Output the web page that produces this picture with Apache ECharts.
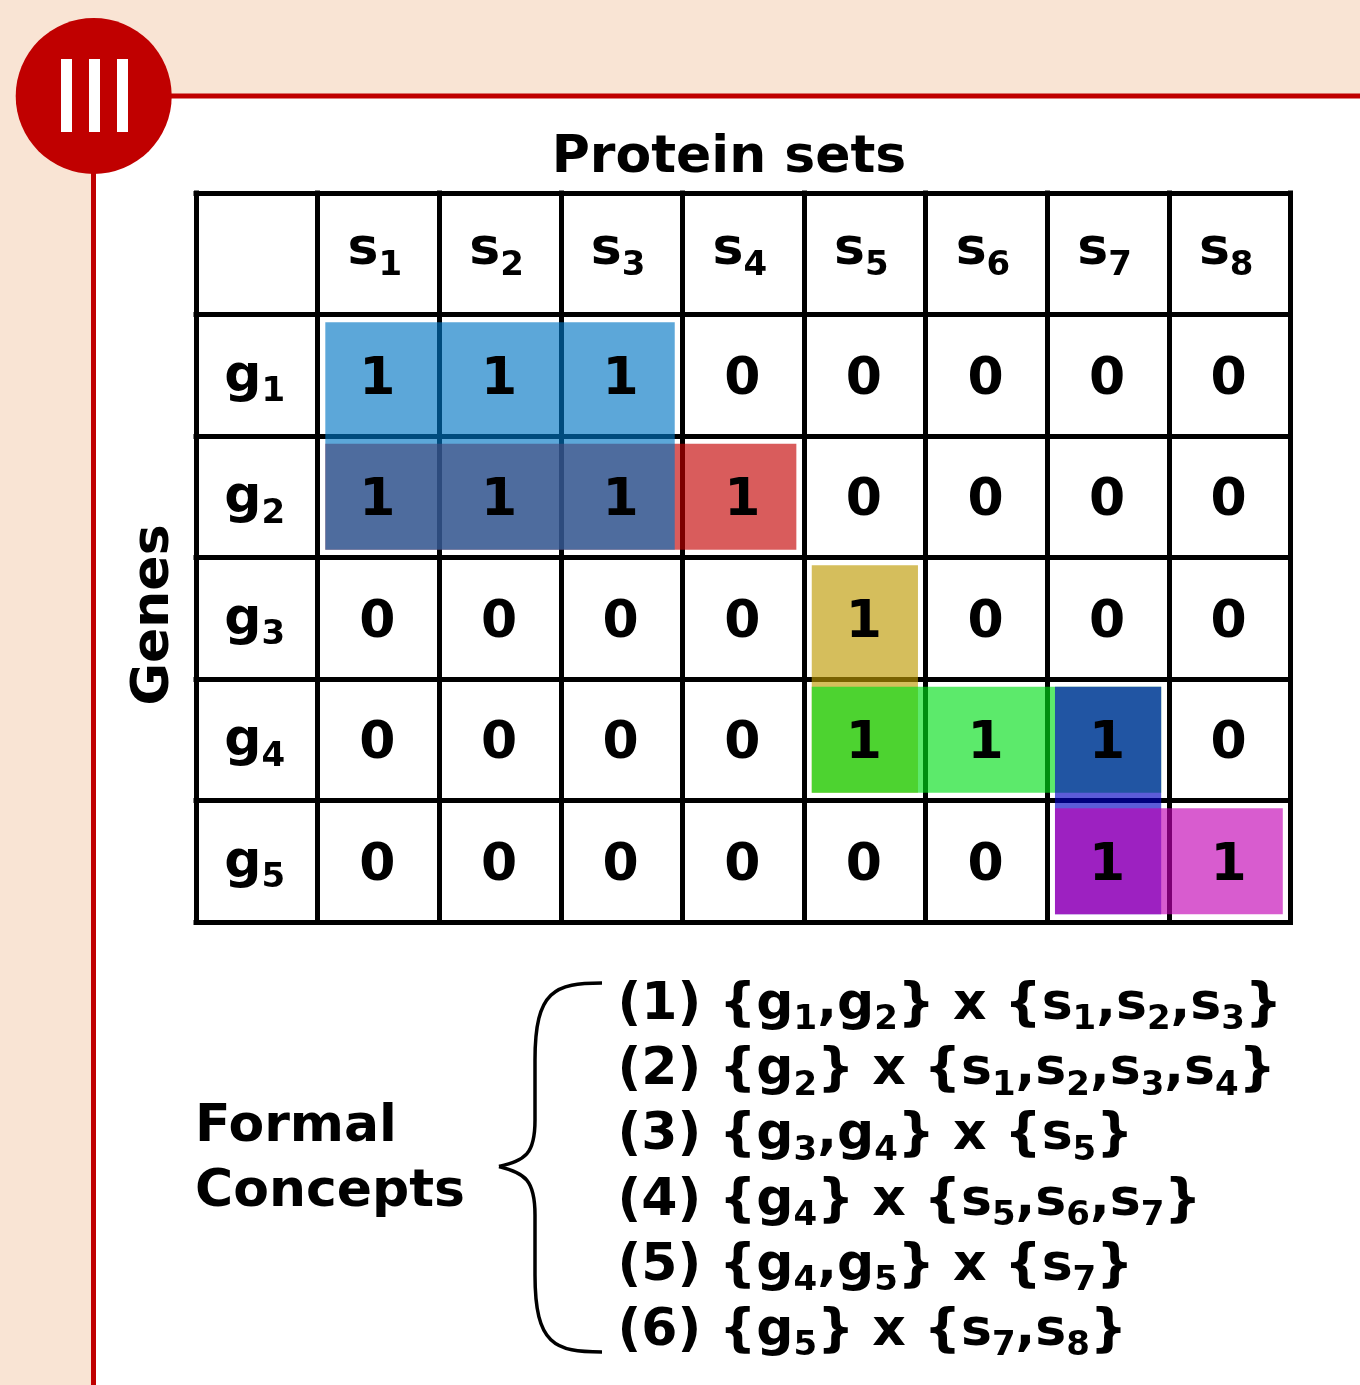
<!DOCTYPE html>
<html>
<head>
<meta charset="utf-8">
<title>Formal concepts</title>
<script src="https://cdn.jsdelivr.net/npm/echarts@6/dist/echarts.min.js"></script>
<style>
  html, body { margin: 0; padding: 0; background: #fff; }
  #chart { width: 1360px; height: 1385px; }
</style>
</head>
<body>
<div id="chart"></div>
<script>
// data
const proteinSets = ['s1', 's2', 's3', 's4', 's5', 's6', 's7', 's8']
const genes = ['g1', 'g2', 'g3', 'g4', 'g5']
const g1Row = [1, 1, 1, 0, 0, 0, 0, 0]
const g2Row = [1, 1, 1, 1, 0, 0, 0, 0]
const g3Row = [0, 0, 0, 0, 1, 0, 0, 0]
const g4Row = [0, 0, 0, 0, 1, 1, 1, 0]
const g5Row = [0, 0, 0, 0, 0, 0, 1, 1]
const matrixRows = [g1Row, g2Row, g3Row, g4Row, g5Row]

// formal concepts, numbers as printed in the list
const conceptGenes = [[1, 2], [2], [3, 4], [4], [4, 5], [5]]
const conceptSets = [[1, 2, 3], [1, 2, 3, 4], [5], [5, 6, 7], [7], [7, 8]]
const conceptColors = [
  'rgba(0,117,195,0.64)', 'rgba(195,0,0,0.64)', 'rgba(190,153,0,0.64)',
  'rgba(0,222,23,0.64)', 'rgba(0,0,195,0.64)', 'rgba(194,0,180,0.64)'
]
// the second concept sits under the first one
const drawOrder = [1, 0, 2, 3, 4, 5]

const FONT = '"DejaVu Sans"'
const RED = '#c00000'
const BAND = '#f9e4d4'
const INSET = 7.7

const richStyles = {
  b: { fontFamily: FONT, fontWeight: 'bold', fontSize: 52, lineHeight: 68, color: '#000' },
  s: { fontFamily: FONT, fontWeight: 'bold', fontSize: 34, lineHeight: 36, color: '#000', verticalAlign: 'top', padding: [32, 0, 0, 0] }
}

// 'g1' -> rich text with the number set as subscript
function subName(name) {
  return `{b|${name[0]}}{s|${name.slice(1)}}`
}

function setText(letter, nums) {
  const parts = nums.map(n => `{b|${letter}}{s|${n}}`)
  return '{b|{}' + parts.join('{b|,}') + '}'
}

function conceptLine(i) {
  return `{b|(${i + 1}) }` + setText('g', conceptGenes[i]) + '{b| x }' + setText('s', conceptSets[i])
}

const cellData = []
matrixRows.forEach((row, r) => {
  row.forEach((v, c) => cellData.push([c + 1, r + 1, v]))
})

const rectData = drawOrder.map(i => [
  Math.min(...conceptSets[i]), Math.max(...conceptSets[i]),
  Math.min(...conceptGenes[i]), Math.max(...conceptGenes[i]), i
])

function curve(x1, y1, cpx1, cpy1, cpx2, cpy2, x2, y2) {
  return {
    type: 'bezierCurve',
    shape: { x1, y1, cpx1, cpy1, cpx2, cpy2, x2, y2 },
    style: { fill: null, stroke: '#000', lineWidth: 3.5 }
  }
}

// the curly brace in front of the list
const braceParts = [
  curve(602, 983, 555, 983, 535, 990, 535, 1060),
  curve(535, 1060, 535, 1080, 535, 1100, 535, 1120),
  curve(535, 1120, 535, 1155, 525, 1160, 499, 1166.5),
  curve(499, 1166.5, 525, 1173, 535, 1180, 535, 1215),
  curve(535, 1215, 535, 1235, 535, 1255, 535, 1275),
  curve(535, 1275, 535, 1345, 555, 1352, 602, 1352)
]

function headerSeries(data, offset) {
  return {
    type: 'scatter',
    z: 3,
    symbolSize: 1,
    itemStyle: { color: 'transparent', opacity: 1 },
    silent: true,
    data,
    label: {
      show: true,
      position: 'inside',
      offset,
      rich: richStyles,
      formatter: p => subName(p.value[2])
    }
  }
}

const chart = echarts.init(document.getElementById('chart'), null, { renderer: 'canvas' })

chart.setOption({
  animation: false,
  backgroundColor: '#fff',
  grid: { left: 196, top: 193, width: 1094.5, height: 729, containLabel: false },
  xAxis: {
    type: 'category',
    data: ['', ...proteinSets],
    axisLine: { show: false },
    axisTick: { show: false },
    axisLabel: { show: false },
    splitLine: { show: true, interval: 0, lineStyle: { color: '#000', width: 5, cap: 'square' } }
  },
  yAxis: {
    type: 'category',
    inverse: true,
    data: ['', ...genes],
    axisLine: { show: false },
    axisTick: { show: false },
    axisLabel: { show: false },
    splitLine: { show: true, interval: 0, lineStyle: { color: '#000', width: 5, cap: 'square' } }
  },
  graphic: [
    { type: 'rect', z: -10, shape: { x: 0, y: 0, width: 1360, height: 96 }, style: { fill: BAND } },
    { type: 'rect', z: -10, shape: { x: 0, y: 0, width: 93, height: 1385 }, style: { fill: BAND } },
    { type: 'line', z: -9, shape: { x1: 93, y1: 96, x2: 1360, y2: 96 }, style: { stroke: RED, lineWidth: 5 } },
    { type: 'line', z: -9, shape: { x1: 93.5, y1: 96, x2: 93.5, y2: 1385 }, style: { stroke: RED, lineWidth: 5 } },
    { type: 'circle', z: -8, shape: { cx: 93.7, cy: 96, r: 78 }, style: { fill: RED } },
    { type: 'rect', z: -7, shape: { x: 61, y: 59, width: 11, height: 73 }, style: { fill: '#fff' } },
    { type: 'rect', z: -7, shape: { x: 89, y: 59, width: 11, height: 73 }, style: { fill: '#fff' } },
    { type: 'rect', z: -7, shape: { x: 117, y: 59, width: 11, height: 73 }, style: { fill: '#fff' } },
    {
      type: 'text', x: 729, y: 158,
      style: { text: 'Protein sets', font: `bold 52px ${FONT}`, fill: '#000', align: 'center', verticalAlign: 'middle' }
    },
    {
      type: 'text', x: 154, y: 615, rotation: Math.PI / 2,
      style: { text: 'Genes', font: `bold 52px ${FONT}`, fill: '#000', align: 'center', verticalAlign: 'middle' }
    },
    {
      type: 'text', x: 195, y: 1127,
      style: { text: 'Formal', font: `bold 52px ${FONT}`, fill: '#000', align: 'left', verticalAlign: 'middle' }
    },
    {
      type: 'text', x: 195, y: 1192,
      style: { text: 'Concepts', font: `bold 52px ${FONT}`, fill: '#000', align: 'left', verticalAlign: 'middle' }
    },
    ...braceParts,
    ...conceptGenes.map((_, i) => ({
      type: 'text', x: 617.5, y: 1005.5 + i * 65.2,
      style: {
        text: conceptLine(i), rich: richStyles,
        font: `bold 52px ${FONT}`, fill: '#000', align: 'left', verticalAlign: 'middle'
      }
    }))
  ],
  series: [
    {
      type: 'custom',
      coordinateSystem: 'cartesian2d',
      z: 2,
      data: rectData,
      encode: { x: [0, 1], y: [2, 3] },
      silent: true,
      renderItem: (params, api) => {
        const a = api.coord([api.value(0), api.value(2)])
        const b = api.coord([api.value(1), api.value(3)])
        const size = api.size([1, 1])
        const x0 = a[0] - size[0] / 2 + INSET
        const x1 = b[0] + size[0] / 2 - INSET
        const y0 = a[1] - size[1] / 2 + INSET
        const y1 = b[1] + size[1] / 2 - INSET
        return {
          type: 'rect',
          shape: { x: x0, y: y0, width: x1 - x0, height: y1 - y0 },
          style: { fill: conceptColors[api.value(4)] }
        }
      }
    },
    {
      type: 'scatter',
      z: 3,
      symbolSize: 1,
      itemStyle: { color: 'transparent', opacity: 1 },
      silent: true,
      data: cellData,
      label: {
        show: true,
        position: 'inside',
        offset: [-1, 5],
        fontFamily: FONT,
        fontWeight: 'bold',
        fontSize: 52,
        color: '#000',
        formatter: p => String(p.value[2])
      }
    },
    headerSeries(proteinSets.map((name, c) => [c + 1, 0, name]), [-3.5, -3]),
    headerSeries(genes.map((name, r) => [0, r + 1, name]), [-2, 2])
  ]
})
</script>
</body>
</html>
